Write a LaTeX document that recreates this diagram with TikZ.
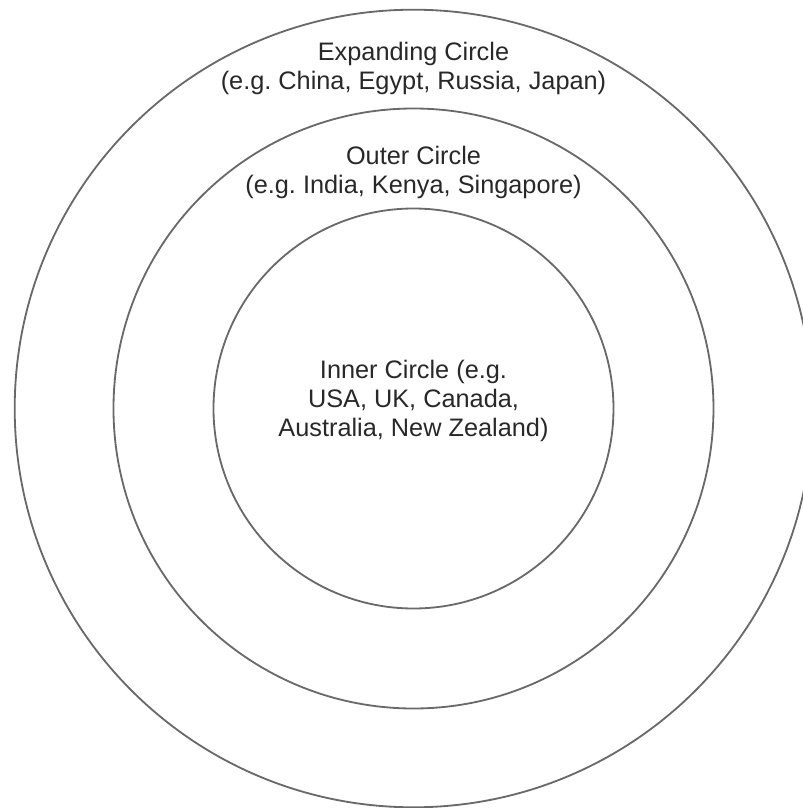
\documentclass[tikz,border=0pt]{standalone}
\usepackage{fontspec}
\setmainfont{Liberation Sans}
\definecolor{ring_gray}{RGB}{105,105,105}
\definecolor{label_gray}{RGB}{40,40,40}
\usetikzlibrary{positioning}

\begin{document}
\begin{tikzpicture}[
        ring/.style={circle, draw=ring_gray, line width=1.3pt, inner sep=0pt},
        lbl/.style={align=center, text=label_gray, inner sep=0pt,
                    font=\fontsize{18}{20.6}\selectfont\frenchspacing}]
  \useasboundingbox (-10.3375,-9.9875) rectangle (9.7375,10.2125);
  \clip (-10.3375,-9.9875) rectangle (9.7375,10.2125);
  \node[ring, minimum size=19.94cm] (expanding) at (0,0) {};
  \node[ring, minimum size=15.0cm] (outer) at (0,0) {};
  \node[ring, minimum size=10.0cm] (inner) at (0,0) {};
  \node[lbl] (expandinglbl) at (0,8.49)
    {Expanding Circle\\(e.g. China, Egypt, Russia, Japan)};
  \node[lbl] (outerlbl) at (0,5.91)
    {Outer Circle\\(e.g. India, Kenya, Singapore)};
  \node[lbl] (innerlbl) at (0,0.19)
    {Inner Circle (e.g.\\USA, UK, Canada,\\Australia, New Zealand)};
\end{tikzpicture}
\end{document}
